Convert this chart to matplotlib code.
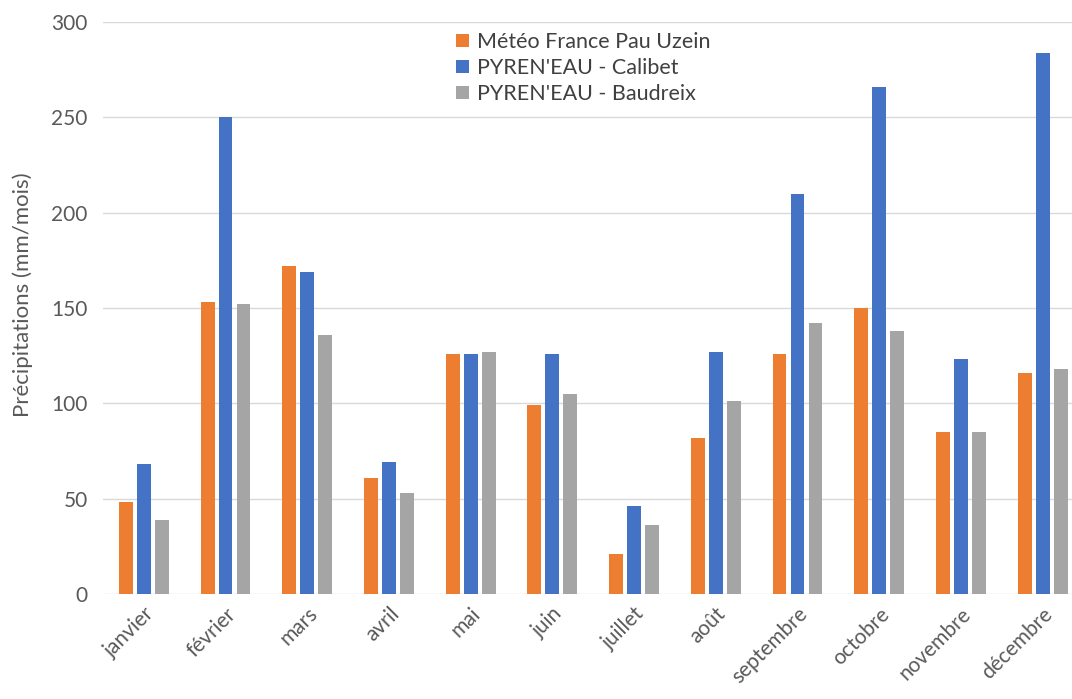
import matplotlib
matplotlib.use("Agg")
import matplotlib.pyplot as plt
import numpy as np

months = ["janvier", "février", "mars", "avril", "mai", "juin", "juillet",
          "août", "septembre", "octobre", "novembre", "décembre"]
meteo_france = [48, 153, 172, 61, 126, 99, 21, 82, 126, 150, 85, 116]
calibet = [68, 250, 169, 69, 126, 126, 46, 127, 210, 266, 123, 284]
baudreix = [39, 152, 136, 53, 127, 105, 36, 101, 142, 138, 85, 118]
series_names = ["Météo France Pau Uzein", "PYREN'EAU - Calibet", "PYREN'EAU - Baudreix"]
colors = ["#ED7D31", "#4472C4", "#A5A5A5"]
y_ticks = [0, 50, 100, 150, 200, 250, 300]

plt.rcParams['font.family'] = ['Lato', 'DejaVu Sans']

fig = plt.figure(figsize=(10.72, 6.99), dpi=100)
ax = fig.add_axes([103/1072, 105/699, 1 - 103/1072, (594-22)/699])

x = np.arange(len(months))
w = 0.17
off = 0.22
for i, (vals, name, c) in enumerate(zip([meteo_france, calibet, baudreix], series_names, colors)):
    ax.bar(x + (i - 1) * off, vals, width=w, color=c, label=name, zorder=3)

ax.set_ylim(0, 300)
ax.set_xlim(-0.5, 11.36)
ax.set_yticks(y_ticks)
ax.yaxis.grid(True, color="#D9D9D9", linewidth=1.0, zorder=0)
ax.set_axisbelow(True)
for s in ax.spines.values():
    s.set_visible(False)
ax.tick_params(axis='both', length=0, labelcolor="#595959")
ax.tick_params(axis='y', pad=11, labelsize=15)
ax.set_xticks(x)
ax.set_xticklabels(months, rotation=45, ha='right', va='top', rotation_mode='anchor')
ax.tick_params(axis='x', pad=7, labelsize=15)
ax.set_ylabel("Précipitations (mm/mois)", fontsize=16, color="#595959")
ax.yaxis.set_label_coords(-0.072, 0.523)

leg = ax.legend(loc='upper left', bbox_to_anchor=(0.36, 0.99), frameon=False,
                fontsize=15.5, handlelength=0.6, handleheight=0.6, handletextpad=0.35,
                labelspacing=0.28, borderaxespad=0.0, borderpad=0.2)
for t in leg.get_texts():
    t.set_color("#404040")

fig.savefig("out.png", dpi=100)
